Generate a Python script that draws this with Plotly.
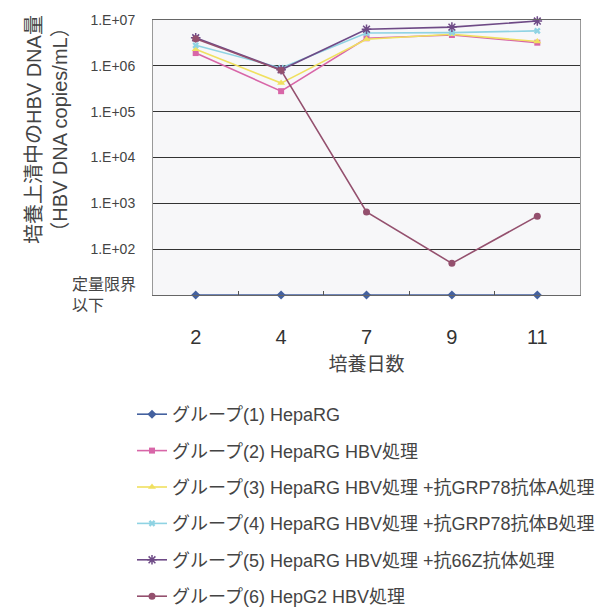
import plotly.graph_objects as go

days = ["2", "4", "7", "9", "11"]
g1 = [10, 10, 10, 10, 10]  # below quantification limit (plotted at the 定量限界以下 level)
g2 = [1.9e6, 2.8e5, 4.0e6, 4.7e6, 3.2e6]
g3 = [2.3e6, 4.2e5, 3.8e6, 4.9e6, 3.4e6]
g4 = [2.8e6, 9.0e5, 5.2e6, 5.3e6, 5.8e6]
g5 = [4.1e6, 8.2e5, 6.3e6, 7.0e6, 9.5e6]
g6 = [3.9e6, 8.0e5, 650, 49, 525]

names = [
    "グループ(1) HepaRG",
    "グループ(2) HepaRG HBV処理",
    "グループ(3) HepaRG HBV処理 +抗GRP78抗体A処理",
    "グループ(4) HepaRG HBV処理 +抗GRP78抗体B処理",
    "グループ(5) HepaRG HBV処理 +抗66Z抗体処理",
    "グループ(6) HepG2 HBV処理",
]
ytick_vals = [1e2, 1e3, 1e4, 1e5, 1e6, 1e7]
ytick_text = ["1.E+02", "1.E+03", "1.E+04", "1.E+05", "1.E+06", "1.E+07"]
lod_label = "定量限界<br>以下"
y_title = "培養上清中のHBV DNA量<br>（HBV DNA copies/mL）"
x_title = "培養日数"

series = [g1, g2, g3, g4, g5, g6]
colors = ["#44619f", "#d866a8", "#f0e060", "#8fd3e3", "#6e4a86", "#94506e"]
symbols = ["diamond", "square", "triangle-up", "x", "asterisk-open", "circle"]
sizes = [7, 6, 7, 6, 8, 7]

FONT = "Liberation Sans, Noto Sans CJK JP, sans-serif"
TXT = "#444444"

PL, PR, PT, PB = 153, 580, 20, 295
PW, PH = PR - PL, PB - PT

fig = go.Figure()
for i, (vals, nm, c, s, sz) in enumerate(zip(series, names, colors, symbols, sizes)):
    marker = dict(symbol=s, size=sz, color=c)
    if s == "asterisk-open":
        marker["line"] = dict(color=c, width=1.5)
    fig.add_trace(go.Scatter(
        x=days, y=vals, name=nm, mode="lines+markers",
        line=dict(color=c, width=1.6), marker=marker,
        legendgroup=f"g{i}", cliponaxis=False,
    ))

fig.update_layout(
    width=610, height=608,
    margin=dict(l=PL, r=610 - PR, t=PT, b=608 - PB),
    paper_bgcolor="white", plot_bgcolor="#f7f7f9",
    font=dict(family=FONT, color=TXT),
    showlegend=True,
    legend=dict(
        xref="paper", yref="container",
        x=(132 - PL) / PW, y=1 - 396 / 608,
        xanchor="left", yanchor="top",
        font=dict(size=18, family=FONT, color=TXT),
        tracegroupgap=10, bgcolor="rgba(0,0,0,0)",
    ),
)
fig.update_xaxes(
    type="category", range=[-0.5, 4.5],
    showline=True, linecolor="#666", linewidth=1, mirror=True,
    ticks="inside", tickson="boundaries", ticklen=4, tickcolor="#555",
    showgrid=False,
    tickfont=dict(size=20, color="#333"),
    ticklabelstandoff=24,
    title=dict(text=x_title, font=dict(size=19, color="#444"), standoff=10),
)
fig.update_yaxes(
    type="log", range=[1, 7],
    tickmode="array", tickvals=ytick_vals, ticktext=ytick_text,
    tickfont=dict(size=14, color=TXT),
    ticklabelstandoff=14,
    showgrid=True, gridcolor="#333", gridwidth=1,
    showline=True, linecolor="#999", linewidth=1, mirror=True,
    zeroline=False,
)
fig.add_annotation(
    text=lod_label, xref="paper", yref="y", x=(70 - PL) / PW, y=1,
    xanchor="left", yanchor="middle", align="left", showarrow=False,
    font=dict(size=16, color=TXT, family=FONT),
)
fig.add_annotation(
    text=y_title, xref="paper", yref="paper", x=(47 - PL) / PW, y=1 - (130 - PT) / PH,
    xanchor="center", yanchor="middle", textangle=-90, showarrow=False,
    font=dict(size=20, color=TXT, family=FONT),
)

fig.write_html("out.html")
